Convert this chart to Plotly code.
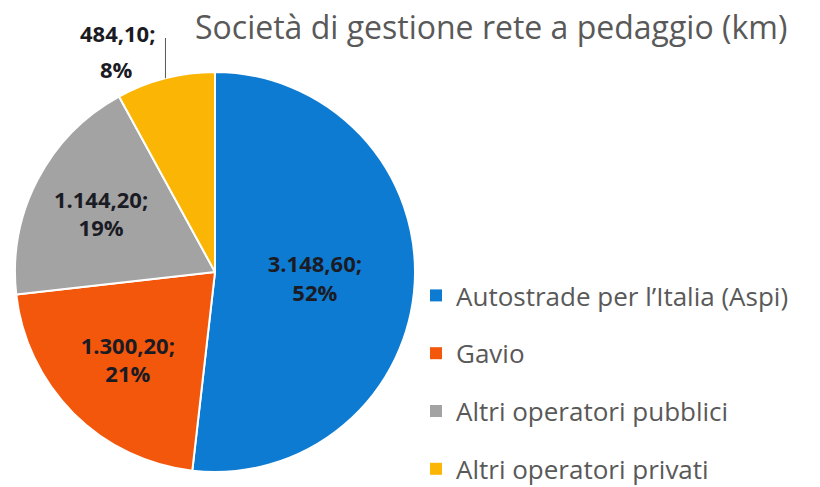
import math
import plotly.graph_objects as go

labels = ["Autostrade per l\u2019Italia (Aspi)", "Gavio", "Altri operatori pubblici", "Altri operatori privati"]
values = [3148.60, 1300.20, 1144.20, 484.10]
value_text = ["3.148,60;", "1.300,20;", "1.144,20;", "484,10;"]
colors = ["#0E7BD2", "#F2570C", "#A3A3A3", "#FBB605"]

total = sum(values)
pct_text = [f"{round(v / total * 100):d}%" for v in values]
slice_text = [f"{a}<br>{b}" for a, b in zip(value_text, pct_text)]
inside_text = slice_text[:3] + [""]

W, H = 820, 487
CX, CY, R = 215, 272, 200  # pie centre / radius in px
FONT = "Open Sans"

fig = go.Figure()
fig.add_trace(go.Pie(
    labels=labels, values=values, sort=False, direction="clockwise", rotation=0,
    marker=dict(colors=colors, line=dict(color="white", width=2)),
    text=inside_text, textinfo="text", texttemplate="%{text}",
    textposition="inside", insidetextorientation="horizontal",
    textfont=dict(family=FONT, size=22, color="#1b1b24", weight="bold"),
    domain=dict(x=[(CX - R) / W, (CX + R) / W], y=[1 - (CY + R) / H, 1 - (CY - R) / H]),
    showlegend=False, hoverinfo="label+value+percent",
))
for i, (lab, col) in enumerate(zip(labels, colors)):
    fig.add_trace(go.Scatter(
        x=[None], y=[None], mode="markers", name=lab, legendgroup=f"g{i}",
        marker=dict(symbol="square", size=8, color=col), showlegend=True,
    ))

# leader line + label for the small slice, derived from its mid-angle
start = sum(values[:3]) / total * 360
mid = math.radians(start + values[3] / total * 360 / 2)
px = CX + R * math.sin(mid)
py = CY - R * math.cos(mid)

label_font = dict(size=22, color="#1b1b24", family=FONT, weight="bold")
fig.update_layout(
    width=W, height=H, margin=dict(l=0, r=0, t=0, b=0, autoexpand=False),
    paper_bgcolor="white", plot_bgcolor="white",
    xaxis=dict(visible=False), yaxis=dict(visible=False),
    font=dict(family=FONT, color="#595959"),
    legend=dict(x=416 / W, y=1 - 272 / H, xanchor="left", yanchor="top",
                font=dict(size=26, color="#595959", family=FONT),
                tracegroupgap=21, itemsizing="constant", bgcolor="rgba(0,0,0,0)"),
    shapes=[dict(type="line", xref="paper", yref="paper",
                 x0=px / W, x1=px / W, y0=1 - py / H, y1=1 - 38 / H,
                 line=dict(color="#595959", width=1))],
    annotations=[
        dict(text="Società di gestione rete a pedaggio (km)", x=491 / W, y=1 - 26 / H,
             xref="paper", yref="paper", xanchor="center", yanchor="middle",
             showarrow=False, font=dict(size=32, color="#595959", family=FONT)),
        dict(text=value_text[3], x=118 / W, y=1 - 33 / H, xref="paper", yref="paper",
             xanchor="center", yanchor="middle", showarrow=False, font=label_font),
        dict(text=pct_text[3], x=117 / W, y=1 - 69 / H, xref="paper", yref="paper",
             xanchor="center", yanchor="middle", showarrow=False, font=label_font),
    ],
)
fig.write_html("out.html")
